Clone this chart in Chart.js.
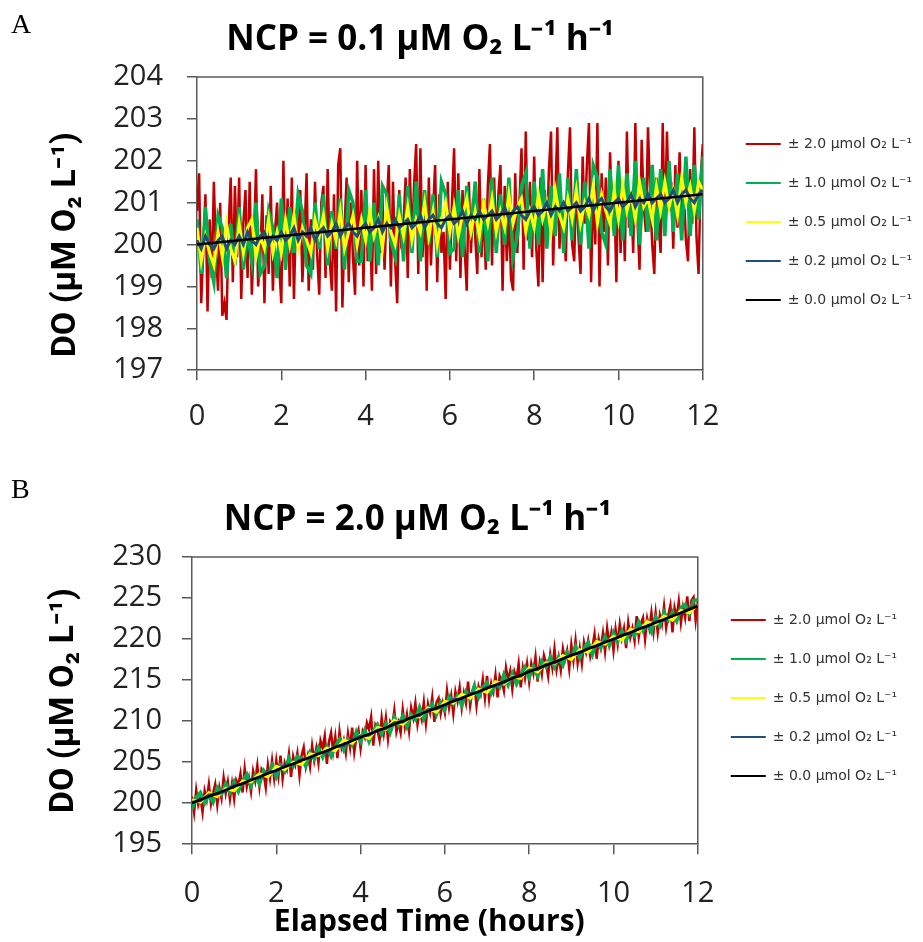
<!DOCTYPE html>
<html>
<head>
<meta charset="utf-8">
<script src="https://cdn.jsdelivr.net/npm/chart.js@4"></script>
<style>
  body { margin: 0; background: #fff; overflow: hidden; }
  .panel { position: absolute; left: 0; width: 923px; }
  .tag { position: absolute; left: 11px; z-index: 2; font-family: 'Liberation Serif', serif; font-size: 28px; color: #000; }
</style>
</head>
<body>
<div class="panel" style="top:0;height:470px"><canvas id="chartA"></canvas></div>
<div class="panel" style="top:470px;height:472px"><canvas id="chartB"></canvas></div>
<div class="tag" style="top:8px">A</div>
<div class="tag" style="top:473px">B</div>
<script>
// sampling interval (hours) of each series
const denseStep = 0.05;
const fineStep = 0.1;
const coarseStep = 0.2;

const legendLabels = [
  '± 2.0 µmol O₂ L⁻¹',
  '± 1.0 µmol O₂ L⁻¹',
  '± 0.5 µmol O₂ L⁻¹',
  '± 0.2 µmol O₂ L⁻¹',
  '± 0.0 µmol O₂ L⁻¹'
];
const lineColors = ['#C00000', '#00B050', '#FFFF00', '#1F4E79', '#000000'];
const lineWidths = [2.5, 3.5, 3, 3, 2.5];

// Panel A, NCP = 0.1
const redA = [
  200.8, 201.7, 198.6, 199.9, 201.2, 198.4, 200.6, 199.2, 201.5, 199.8,
  198.9, 201.0, 198.3, 198.6, 198.2, 200.4, 201.6, 199.1, 201.4, 199.7,
  201.6, 198.7, 200.5, 201.3, 199.2, 201.5, 198.8, 200.1, 201.8, 199.0,
  199.6, 201.2, 198.6, 200.7, 199.3, 201.4, 198.9, 200.3, 201.0, 199.5,
  198.6, 202.0, 199.4, 201.1, 199.0, 201.6, 198.7, 200.8, 199.9, 201.3,
  199.1, 200.2, 201.7, 198.9, 200.6, 199.4, 201.5, 199.8, 198.8, 201.0,
  201.4, 199.2, 201.8, 199.6, 198.9, 201.2, 198.4, 201.9, 202.3, 198.5,
  200.4, 201.6, 199.1, 201.0, 199.7, 198.8, 202.0, 199.5, 201.3, 199.0,
  201.9, 199.6, 200.7, 198.9, 201.8, 199.3, 202.0, 199.8, 201.2, 199.4,
  200.9, 201.9, 199.0, 201.5, 199.6, 198.6, 201.3, 199.9, 200.5, 201.6,
  199.2, 201.8, 200.0, 201.4, 202.4, 199.3, 202.3, 199.7, 201.1, 198.9,
  201.6, 199.5, 200.8, 201.9, 199.1, 201.2, 199.8, 200.3, 198.7, 201.5,
  199.4, 201.0, 202.3, 199.6, 201.7, 199.2, 201.3, 199.9, 198.9, 201.5,
  199.8, 201.1, 200.2, 199.3, 201.8, 199.7, 200.9, 199.4, 201.4, 202.4,
  199.5, 201.6, 199.9, 201.2, 201.9, 198.9, 201.4, 199.6, 200.8, 199.2,
  198.9, 201.7, 199.8, 201.0, 202.3, 199.4, 202.7, 200.1, 201.5, 199.7,
  202.1, 199.9, 199.0, 201.6, 199.1, 201.3, 200.2, 201.8, 202.7, 199.5,
  201.2, 202.8, 199.9, 201.0, 200.4, 199.6, 201.7, 202.8, 200.0, 199.6,
  201.6, 200.2, 199.3, 202.1, 200.5, 201.9, 202.9, 199.1, 201.4, 200.0,
  202.9, 199.0, 201.7, 200.3, 201.6, 199.5, 202.2, 200.6, 201.3, 199.1,
  202.0, 199.8, 201.4, 199.6, 202.7, 200.4, 201.2, 199.8, 202.9, 200.6,
  199.4, 202.5, 200.9, 200.3, 202.8, 201.2, 200.0, 199.3, 201.6, 200.5,
  199.8, 202.9, 200.3, 202.7, 200.8, 201.5, 199.9, 201.9, 200.4, 202.2,
  200.7, 201.3, 200.1, 199.6, 201.8, 200.5, 202.8, 200.2, 199.3, 201.6,
  202.4
];
const greenA = [
  200.6, 199.3, 200.9, 199.6, 199.1, 200.7, 200.4, 199.2, 200.5, 199.5,
  200.9, 199.4, 200.3, 199.6, 201.0, 199.3, 199.5, 200.8, 200.4, 199.2,
  201.1, 199.4, 200.9, 199.8, 201.2, 200.8, 199.5, 199.3, 201.0, 199.9,
  201.2, 199.5, 200.8, 199.9, 201.1, 199.4, 201.3, 201.0, 199.6, 199.6,
  201.3, 199.6, 201.0, 199.5, 201.4, 201.2, 200.1, 199.7, 201.2, 199.6,
  201.4, 199.8, 201.5, 199.6, 201.3, 200.0, 201.2, 199.7, 201.5, 201.2,
  199.8, 199.9, 201.3, 199.7, 201.4, 200.2, 201.5, 199.8, 201.1, 199.6,
  201.6, 199.8, 201.2, 200.0, 201.6, 199.7, 200.2, 201.4, 201.7, 199.9,
  201.5, 200.0, 201.8, 199.9, 201.4, 200.2, 201.7, 199.8, 201.6, 200.1,
  201.8, 200.0, 201.5, 199.9, 201.9, 201.6, 200.3, 200.0, 201.8, 200.2,
  201.9, 200.1, 201.7, 200.2, 202.0, 200.0, 201.6, 200.3, 201.9, 200.1,
  201.8, 200.2, 202.0, 200.3, 201.7, 200.1, 202.1, 200.2, 201.9, 200.6,
  202.1
];
const yellowA = [
  200.4, 199.6, 200.2, 199.8, 199.5, 200.3, 199.7, 200.5, 199.9, 199.6,
  200.5, 199.8, 200.4, 200.6, 199.7, 200.2, 199.9, 200.6, 199.8, 200.3,
  199.8, 200.6, 200.0, 200.7, 199.9, 200.4, 200.1, 199.8, 200.6, 200.2,
  200.7, 199.9, 200.5, 200.1, 200.8, 199.9, 200.3, 200.7, 200.0, 200.6,
  200.1, 200.8, 200.2, 200.6, 199.9, 200.9, 200.3, 200.0, 200.7, 200.2,
  200.9, 200.1, 200.6, 200.3, 201.0, 200.2, 200.8, 200.0, 200.6, 201.0,
  200.3, 200.9, 200.2, 200.7, 201.1, 200.3, 200.8, 200.2, 201.0, 200.5,
  201.1, 200.3, 200.8, 200.4, 201.2, 200.5, 200.9, 201.1, 200.3, 200.8,
  200.4, 201.2, 200.6, 201.0, 200.3, 201.3, 200.7, 200.4, 201.1, 200.6,
  201.3, 200.5, 201.0, 200.7, 201.4, 200.5, 201.2, 200.8, 200.5, 201.3,
  200.6, 201.4, 200.8, 201.2, 200.6, 201.5, 200.9, 201.1, 200.6, 201.4,
  200.8, 201.5, 200.9, 201.3, 200.7, 201.6, 201.0, 201.4, 200.8, 201.5,
  201.3
];
const blueA = [
  200.1, 199.9, 200.2, 200.0, 199.9, 200.1, 200.2, 199.9, 200.1, 200.0,
  200.2, 200.0, 200.3, 200.1, 200.0, 200.2, 200.3, 200.0, 200.2, 200.1,
  200.3, 200.1, 200.2, 200.4, 200.1, 200.3, 200.2, 200.4, 200.1, 200.3,
  200.4, 200.2, 200.3, 200.5, 200.2, 200.4, 200.5, 200.3, 200.2, 200.4,
  200.5, 200.3, 200.4, 200.6, 200.3, 200.5, 200.4, 200.6, 200.4, 200.5,
  200.6, 200.4, 200.5, 200.7, 200.4, 200.6, 200.7, 200.5, 200.4, 200.6,
  200.7, 200.5, 200.6, 200.8, 200.5, 200.7, 200.6, 200.8, 200.6, 200.7,
  200.8, 200.6, 200.7, 200.9, 200.6, 200.8, 200.9, 200.7, 200.6, 200.8,
  200.9, 200.7, 200.8, 201.0, 200.7, 200.9, 200.8, 201.0, 200.8, 200.9,
  201.0, 200.8, 200.9, 201.1, 200.8, 201.0, 201.1, 200.9, 200.8, 201.0,
  201.1, 200.9, 201.0, 201.2, 200.9, 201.1, 201.0, 201.2, 201.0, 201.1,
  201.2, 201.0, 201.1, 201.3, 201.0, 201.2, 201.3, 201.1, 201.0, 201.2,
  201.3
];
const blackA = [200.0, 201.2];

// Panel B, NCP = 2.0
const redB = [
  200.8, 198.9, 201.6, 199.8, 200.7, 198.9, 201.5, 200.4, 202.3, 199.9,
  201.2, 202.3, 199.8, 201.9, 200.6, 203.1, 201.2, 202.6, 200.5, 202.4,
  200.5, 202.8, 202.2, 203.6, 201.3, 204.2, 202.0, 203.1, 201.4, 203.9,
  202.7, 204.6, 202.0, 204.1, 203.6, 201.9, 204.7, 203.0, 205.2, 203.0,
  205.2, 203.3, 205.8, 203.0, 204.9, 204.1, 206.0, 203.2, 205.7, 204.7,
  206.1, 203.4, 205.8, 206.8, 204.5, 205.8, 204.4, 207.0, 205.2, 206.7,
  204.9, 207.6, 206.7, 208.2, 204.8, 207.5, 208.6, 206.3, 208.1, 205.5,
  208.7, 206.8, 207.7, 206.1, 208.5, 206.8, 209.2, 206.2, 208.0, 208.9,
  206.7, 208.7, 208.0, 209.8, 209.0, 210.5, 207.0, 209.5, 208.9, 207.7,
  210.4, 208.5, 210.4, 207.8, 209.9, 209.3, 211.3, 208.7, 209.8, 208.6,
  211.4, 209.3, 210.8, 208.8, 211.6, 210.4, 212.2, 209.6, 211.2, 210.2,
  212.3, 209.7, 212.1, 211.0, 212.9, 209.9, 212.3, 212.8, 210.9, 212.2,
  211.0, 213.7, 211.6, 213.1, 210.9, 213.6, 212.4, 214.1, 211.6, 213.4,
  212.2, 214.8, 211.9, 213.6, 214.4, 211.9, 214.2, 213.3, 215.1, 212.8,
  215.5, 212.7, 214.6, 213.6, 215.6, 212.9, 215.5, 214.9, 213.7, 216.5,
  215.0, 216.1, 213.9, 216.0, 215.2, 217.0, 214.1, 216.5, 215.2, 217.0,
  214.8, 217.0, 215.8, 217.8, 214.8, 217.1, 215.7, 218.0, 217.1, 215.5,
  218.1, 216.5, 218.8, 216.3, 217.8, 216.2, 218.8, 217.5, 218.6, 216.4,
  219.3, 217.4, 219.8, 217.1, 218.9, 217.0, 219.6, 218.4, 219.8, 217.9,
  219.0, 220.6, 217.6, 220.0, 218.9, 220.7, 218.5, 221.3, 219.4, 220.8,
  218.6, 221.2, 219.4, 221.8, 220.1, 221.3, 218.9, 222.0, 220.2, 221.3,
  219.8, 222.8, 220.3, 221.9, 222.6, 220.0, 222.5, 221.3, 223.2, 220.9,
  223.2, 220.8, 222.9, 221.8, 224.0, 221.4, 222.9, 224.1, 220.8, 223.8,
  222.6, 224.6, 222.0, 223.9, 222.6, 225.2, 222.2, 224.7, 225.1, 222.3,
  224.6
];
const greenB = [
  199.3, 200.7, 201.3, 200.0, 201.0, 200.1, 201.9, 201.1, 202.4, 201.3,
  202.6, 201.4, 202.7, 203.5, 202.1, 203.4, 202.3, 204.0, 203.4, 204.6,
  203.2, 204.6, 203.9, 205.5, 204.5, 205.7, 205.4, 204.5, 206.2, 205.4,
  206.8, 205.6, 206.9, 205.7, 206.9, 207.8, 206.5, 207.8, 207.1, 208.7,
  207.5, 208.9, 207.5, 208.8, 209.6, 208.4, 209.7, 208.6, 210.5, 209.5,
  210.6, 209.3, 210.8, 210.2, 211.7, 210.3, 211.5, 212.1, 210.8, 212.3,
  211.4, 213.0, 212.1, 213.1, 211.9, 213.6, 212.7, 214.3, 212.9, 214.1,
  214.7, 213.4, 214.6, 214.1, 215.7, 214.4, 215.8, 214.5, 215.6, 216.6,
  215.3, 216.7, 215.5, 217.3, 216.6, 217.8, 216.6, 217.8, 216.8, 218.4,
  217.6, 219.1, 217.7, 218.9, 219.6, 218.1, 219.7, 218.9, 220.3, 219.2,
  220.8, 219.7, 221.0, 219.8, 221.1, 220.4, 222.1, 221.0, 222.1, 220.9,
  222.7, 221.6, 223.3, 222.3, 223.3, 222.2, 223.8, 224.2, 223.1, 224.7,
  224.8
];
const yellowB = [
  200.4, 200.1, 201.3, 200.8, 201.8, 201.5, 202.7, 202.6, 203.6, 203.2,
  204.5, 204.1, 205.0, 204.7, 206.0, 205.8, 206.7, 206.4, 207.7, 207.3,
  208.3, 207.9, 209.2, 209.0, 210.1, 209.6, 210.6, 210.5, 211.6, 211.1,
  212.4, 212.2, 213.3, 212.8, 213.9, 213.5, 214.8, 214.5, 215.4, 215.2,
  216.5, 216.0, 217.1, 217.0, 218.0, 217.5, 218.7, 218.4, 219.7, 219.4,
  220.3, 219.9, 221.2, 220.9, 222.1, 221.8, 222.8, 222.3, 223.5, 223.2,
  224.2
];
const blueB = [
  200.1, 200.3, 201.0, 201.1, 201.5, 202.2, 202.3, 202.9, 203.1, 203.8,
  203.9, 204.6, 204.7, 205.3, 205.5, 206.1, 206.2, 206.9, 207.0, 207.7,
  208.2, 208.3, 208.9, 209.1, 209.8, 209.9, 210.5, 210.7, 211.4, 211.5,
  211.9, 212.6, 212.7, 213.3, 213.5, 214.1, 214.3, 214.7, 215.3, 215.5,
  216.2, 216.3, 216.9, 217.1, 217.6, 218.1, 218.3, 218.9, 219.1, 219.7,
  219.9, 220.5, 220.7, 221.3, 221.5, 222.1, 222.3, 222.9, 223.1, 223.7,
  224.1
];
const blackB = [200.0, 224.0];

const xTicks = [0, 2, 4, 6, 8, 10, 12];

const boldFont = "'Open Sans', sans-serif";
const axisTitleFont = "'Roboto', sans-serif";
const tickFont = "'Open Sans', sans-serif";
const legendFont = "'DejaVu Sans', sans-serif";

function toPoints(values, step) {
  return values.map((v, i) => ({ x: +(i * step).toFixed(2), y: v }));
}

function makeDatasets(series) {
  return series.map(([values, step], i) => ({
    label: legendLabels[i],
    data: toPoints(values, step),
    borderColor: lineColors[i],
    backgroundColor: lineColors[i],
    borderWidth: lineWidths[i],
    pointRadius: 0,
    tension: 0,
    order: series.length - i   // red at the back, black on top
  }));
}

// top and right edges of the plot box
const framePlugin = {
  id: 'frame',
  beforeDatasetsDraw(chart) {
    const { ctx, chartArea: a } = chart;
    ctx.save();
    ctx.strokeStyle = '#595959';
    ctx.lineWidth = 1.5;
    ctx.beginPath();
    ctx.moveTo(a.left, a.top);
    ctx.lineTo(a.right, a.top);
    ctx.lineTo(a.right, a.bottom);
    ctx.stroke();
    ctx.restore();
  }
};

// put the legend a set distance right of the plot and at a set height
const legendPlacePlugin = {
  id: 'legendPlace',
  afterLayout(chart, args, opts) {
    const lg = chart.legend;
    const pad = lg.options.labels.padding;
    const size = lg.options.labels.font.size;
    const left = chart.chartArea.right + opts.gap - pad;
    const top = opts.firstRow - pad - size / 2;
    lg.left = left;
    lg.right = left + lg.width;
    lg.top = top;
    lg.bottom = top + 5 * (size + pad) + pad + 10;
  }
};

function makeOptions(cfg) {
  return {
    responsive: true,
    maintainAspectRatio: false,
    animation: false,
    layout: { padding: { left: 0, right: cfg.padRight, top: 0, bottom: cfg.padBottom } },
    plugins: {
      title: {
        display: true,
        text: cfg.title,
        color: '#000',
        font: { family: boldFont, size: 35, weight: 'bold' },
        padding: { top: cfg.titleTop, bottom: cfg.titleBottom }
      },
      legend: {
        position: 'right',
        align: 'start',
        reverse: true,
        labels: {
          boxWidth: 35,
          boxHeight: 2,
          padding: 25,
          color: '#333',
          font: { family: legendFont, size: 14 },
          generateLabels: chart => Chart.defaults.plugins.legend.labels.generateLabels(chart)
            .map(l => ({ ...l, lineWidth: 0 }))
        }
      },
      legendPlace: { gap: cfg.legendGap, firstRow: cfg.legendRow },
      tooltip: { enabled: false }
    },
    scales: {
      x: {
        type: 'linear',
        min: 0,
        max: 12,
        afterBuildTicks: s => { s.ticks = xTicks.map(v => ({ value: v })); },
        ticks: { color: '#222', font: { family: tickFont, size: 29 }, padding: cfg.xPad },
        grid: { drawOnChartArea: false, drawTicks: true, tickLength: 10, color: '#595959', lineWidth: 1.5 },
        border: { color: '#595959', width: 1.5 },
        title: cfg.xTitle ? {
          display: true,
          text: cfg.xTitle,
          color: '#000',
          font: { family: boldFont, size: 30, weight: 'bold' },
          padding: { top: -29, bottom: 0 }
        } : { display: false }
      },
      y: {
        min: cfg.yMin,
        max: cfg.yMax,
        afterFit: s => { s.width = cfg.yWidth; },
        ticks: { stepSize: cfg.yStep, color: '#222', font: { family: tickFont, size: 29 }, padding: cfg.yPad },
        grid: { drawOnChartArea: false, drawTicks: true, tickLength: 10, color: '#595959', lineWidth: 1.5 },
        border: { color: '#595959', width: 1.5 },
        title: {
          display: true,
          text: cfg.yTitle,
          color: '#000',
          font: { family: axisTitleFont, size: 34, weight: 'bold' },
          padding: { top: cfg.yTitlePad, bottom: 0 }
        }
      }
    }
  };
}

new Chart(document.getElementById('chartA'), {
  type: 'line',
  data: {
    datasets: makeDatasets([
      [redA, denseStep], [greenA, fineStep], [yellowA, fineStep], [blueA, fineStep], [blackA, 12]
    ])
  },
  options: makeOptions({
    title: 'NCP = 0.1 µM O₂ L⁻¹ h⁻¹       ',
    yMin: 197, yMax: 204, yStep: 1,
    yTitle: 'DO (µM O₂ L⁻¹)     ',
    yWidth: 197, yPad: 24, yTitlePad: 46,
    xPad: 19,
    titleTop: 19, titleBottom: 16,
    padRight: 19, padBottom: 17, legendGap: 43, legendRow: 144
  }),
  plugins: [framePlugin, legendPlacePlugin]
});

new Chart(document.getElementById('chartB'), {
  type: 'line',
  data: {
    datasets: makeDatasets([
      [redB, denseStep], [greenB, fineStep], [yellowB, coarseStep], [blueB, coarseStep], [blackB, 12]
    ])
  },
  options: makeOptions({
    title: 'NCP = 2.0 µM O₂ L⁻¹ h⁻¹       ',
    yMin: 195, yMax: 230, yStep: 5,
    yTitle: 'DO (µM O₂ L⁻¹)',
    xTitle: 'Elapsed Time (hours)    ',
    yWidth: 192, yPad: 20, yTitlePad: 44,
    xPad: 22,
    titleTop: 29, titleBottom: 16,
    padRight: 24, padBottom: 2, legendGap: 33, legendRow: 150
  }),
  plugins: [framePlugin, legendPlacePlugin]
});
</script>
</body>
</html>
